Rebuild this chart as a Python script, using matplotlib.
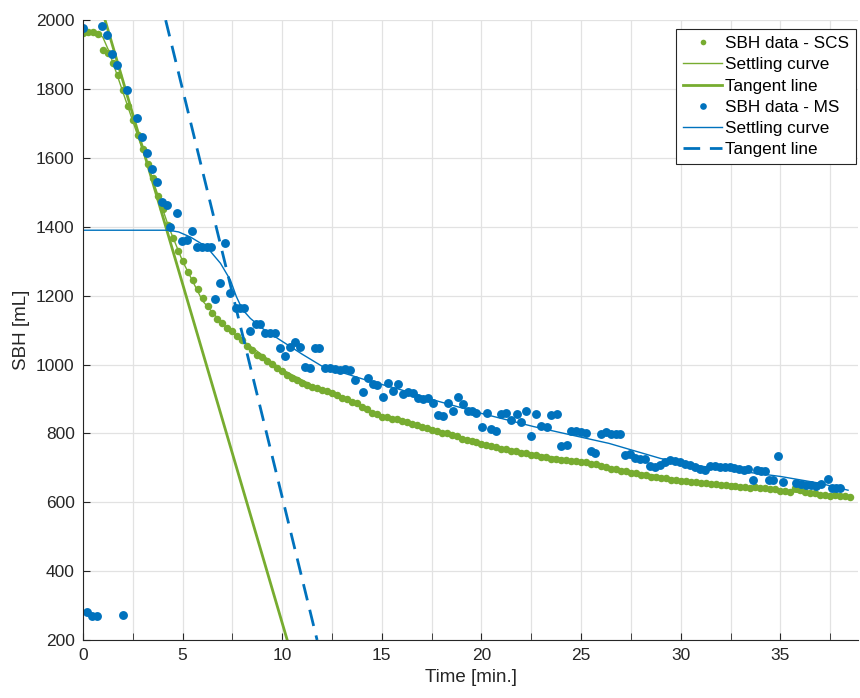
import numpy as np
import matplotlib
matplotlib.use('Agg')
import matplotlib.pyplot as plt
from matplotlib.ticker import MultipleLocator

plt.rcParams['font.family'] = ['Liberation Sans', 'DejaVu Sans']

green = '#77AC30'
blue = '#0072BD'

# SBH data - SCS (sampled every 0.25 min)
scs_time = [0, 0.25, 0.5, 0.75, 1, 1.25, 1.5, 1.75, 2, 2.25, 2.5, 2.75,
            3, 3.25, 3.5, 3.75, 4, 4.25, 4.5, 4.75, 5, 5.25, 5.5, 5.75,
            6, 6.25, 6.5, 6.75, 7, 7.25, 7.5, 7.75, 8, 8.25, 8.5, 8.75,
            9, 9.25, 9.5, 9.75, 10, 10.25, 10.5, 10.75, 11, 11.25, 11.5, 11.75,
            12, 12.25, 12.5, 12.75, 13, 13.25, 13.5, 13.75, 14, 14.25, 14.5, 14.75,
            15, 15.25, 15.5, 15.75, 16, 16.25, 16.5, 16.75, 17, 17.25, 17.5, 17.75,
            18, 18.25, 18.5, 18.75, 19, 19.25, 19.5, 19.75, 20, 20.25, 20.5, 20.75,
            21, 21.25, 21.5, 21.75, 22, 22.25, 22.5, 22.75, 23, 23.25, 23.5, 23.75,
            24, 24.25, 24.5, 24.75, 25, 25.25, 25.5, 25.75, 26, 26.25, 26.5, 26.75,
            27, 27.25, 27.5, 27.75, 28, 28.25, 28.5, 28.75, 29, 29.25, 29.5, 29.75,
            30, 30.25, 30.5, 30.75, 31, 31.25, 31.5, 31.75, 32, 32.25, 32.5, 32.75,
            33, 33.25, 33.5, 33.75, 34, 34.25, 34.5, 34.75, 35, 35.25, 35.5, 35.75,
            36, 36.25, 36.5, 36.75, 37, 37.25, 37.5, 37.75, 38, 38.25, 38.5]
scs_height = [1962, 1966, 1965, 1961, 1912, 1905, 1876, 1840, 1796, 1750, 1711, 1667,
              1626, 1581, 1542, 1490, 1451, 1404, 1368, 1331, 1300, 1270, 1244, 1219,
              1194, 1170, 1151, 1133, 1121, 1106, 1097, 1083, 1070, 1053, 1043, 1029,
              1021, 1011, 1001, 989, 980, 971, 961, 956, 946, 941, 934, 931,
              925, 922, 916, 912, 904, 900, 892, 888, 877, 870, 859, 856,
              849, 847, 842, 841, 835, 833, 826, 824, 818, 816, 810, 808,
              802, 800, 794, 791, 785, 782, 777, 775, 769, 767, 762, 760,
              755, 754, 749, 748, 743, 742, 737, 737, 732, 732, 727, 726,
              722, 723, 720, 720, 716, 716, 712, 711, 705, 703, 698, 696,
              691, 690, 685, 684, 679, 678, 674, 673, 669, 669, 666, 666,
              662, 662, 659, 659, 655, 655, 652, 653, 649, 650, 646, 647,
              644, 645, 642, 643, 640, 641, 638, 638, 634, 634, 630, 641,
              637, 631, 627, 626, 622, 622, 619, 620, 617, 618, 616]

scs_curve_time = [0, 0.6, 1.0, 1.3, 1.6, 4.3, 5, 6, 7, 8, 10, 12, 15, 20, 25, 30, 35, 38.4]
scs_curve_height = [1968, 1968, 1950, 1910, 1860, 1400, 1300, 1185, 1118, 1070, 985, 925,
                    850, 770, 716, 665, 633, 616]

scs_tangent_time = [1.11, 10.25]
scs_tangent_height = [2000, 200]

# SBH data - MS
ms_time = [0.0, 0.22, 0.45, 0.7, 0.95, 1.2, 1.45, 1.7, 2.0, 2.2, 2.7, 2.95, 3.2, 3.45,
           3.7, 3.95, 4.2, 4.37, 4.7, 4.95, 5.2, 5.45, 5.7, 5.95, 6.2, 6.45, 6.62, 6.87,
           7.12, 7.37, 7.7, 7.9, 8.1, 8.38, 8.7, 8.9, 9.15, 9.4, 9.65, 9.9, 10.14, 10.4,
           10.65, 10.9, 11.15, 11.4, 11.65, 11.85, 12.15, 12.4, 12.65, 12.9, 13.15, 13.4,
           13.65, 14.06, 14.3, 14.55, 14.75, 15.07, 15.32, 15.57, 15.82, 16.07, 16.3, 16.55,
           16.8, 17.05, 17.3, 17.57, 17.8, 18.05, 18.33, 18.58, 18.83, 19.08, 19.3, 19.5,
           19.75, 20.05, 20.28, 20.5, 20.75, 21.0, 21.25, 21.5, 21.76, 22.0, 22.26, 22.5,
           22.76, 23.0, 23.27, 23.5, 23.77, 24.0, 24.27, 24.5, 24.75, 25.0, 25.25, 25.5,
           25.7, 26.0, 26.25, 26.5, 26.75, 26.95, 27.2, 27.45, 27.7, 27.95, 28.2, 28.45,
           28.7, 28.95, 29.2, 29.45, 29.7, 29.95, 30.2, 30.45, 30.7, 30.95, 31.2, 31.45,
           31.7, 31.95, 32.2, 32.45, 32.7, 32.95, 33.2, 33.4, 33.64, 33.85, 34.05, 34.25,
           34.45, 34.65, 34.9, 35.15, 35.8, 36.05, 36.3, 36.55, 36.8, 37.06, 37.4, 37.6,
           37.8, 38.0]
ms_height = [1976, 282, 270, 270, 1983, 1957, 1903, 1870, 272, 1797, 1715, 1661, 1613, 1569,
             1530, 1473, 1463, 1400, 1439, 1359, 1363, 1388, 1342, 1342, 1342, 1342, 1190, 1236,
             1352, 1207, 1163, 1163, 1163, 1096, 1119, 1119, 1091, 1091, 1091, 1047, 1025, 1050,
             1066, 1050, 993, 990, 1047, 1047, 990, 990, 988, 985, 988, 983,
             955, 921, 960, 943, 940, 905, 945, 924, 942, 914, 920, 918,
             903, 901, 904, 887, 852, 850, 889, 866, 907, 885, 864, 866,
             860, 818, 858, 812, 808, 857, 860, 839, 856, 834, 866, 791,
             856, 822, 820, 854, 855, 763, 767, 806, 808, 803, 800, 749,
             742, 798, 803, 797, 798, 798, 736, 740, 728, 727, 726, 704,
             702, 708, 718, 722, 720, 716, 712, 708, 701, 698, 695, 704,
             706, 703, 702, 703, 699, 697, 695, 698, 665, 693, 690, 692,
             666, 666, 733, 660, 657, 652, 650, 650, 648, 654, 667, 642,
             641, 641]

ms_curve_time = [0, 4.3, 4.8, 5.4, 6.2, 6.9, 7.4, 7.7, 8.0, 8.4, 9.0, 9.9, 11, 12, 14.2,
                 16, 17.6, 20, 22.6, 24.3, 26.4, 29, 31, 33, 35, 37, 38.4]
ms_curve_height = [1390, 1390, 1385, 1370, 1342, 1294, 1245, 1197, 1160, 1134, 1105, 1071,
                   1030, 995, 955, 926, 897, 858, 820, 798, 771, 727, 705, 690, 675, 655, 635]

ms_tangent_time = [4.15, 11.75]
ms_tangent_height = [2000, 200]

fig = plt.figure(figsize=(8.6, 6.98), dpi=100)
ax = fig.add_axes([0.0965, 0.0831, 0.9012, 0.888])

ax.plot(scs_time, scs_height, 'o', color=green, markersize=5.4, markeredgewidth=0,
        label='SBH data - SCS')
ax.plot(scs_curve_time, scs_curve_height, '-', color=green, linewidth=1.0,
        label='Settling curve')
ax.plot(scs_tangent_time, scs_tangent_height, '-', color=green, linewidth=2.0,
        label='Tangent line')
ax.plot(ms_time, ms_height, 'o', color=blue, markersize=6.4, markeredgewidth=0,
        label='SBH data - MS')
ax.plot(ms_curve_time, ms_curve_height, '-', color=blue, linewidth=1.0,
        label='Settling curve')
ax.plot(ms_tangent_time, ms_tangent_height, '--', color=blue, linewidth=2.0,
        dashes=(6, 3.5), label='Tangent line')

ax.set_xlim(0, 38.9)
ax.set_ylim(200, 2000)
ax.xaxis.set_major_locator(MultipleLocator(5))
ax.xaxis.set_minor_locator(MultipleLocator(2.5))
ax.yaxis.set_major_locator(MultipleLocator(200))
ax.grid(True, which='both', color='#e2e2e2', linewidth=0.9)
ax.set_axisbelow(True)

for s in ['top', 'right']:
    ax.spines[s].set_visible(False)
for s in ['left', 'bottom']:
    ax.spines[s].set_color('#262626')
    ax.spines[s].set_linewidth(0.8)

ax.tick_params(which='both', direction='in', colors='#262626', labelsize=12.5, length=5)
ax.tick_params(axis='y', pad=6)
ax.tick_params(axis='x', pad=6)
ax.set_xlabel('Time [min.]', fontsize=13.5, color='#262626')
ax.set_ylabel('SBH [mL]', fontsize=13.5, color='#262626')

leg = ax.legend(loc='upper right', bbox_to_anchor=(0.997, 0.985), borderaxespad=0,
                fontsize=12.3, fancybox=False, framealpha=1, edgecolor='#262626',
                handlelength=2.3, handletextpad=0.15, labelspacing=0.36,
                borderpad=0.4, markerscale=0.75)
leg.get_frame().set_linewidth(0.8)

plt.savefig('out.png', dpi=100)
